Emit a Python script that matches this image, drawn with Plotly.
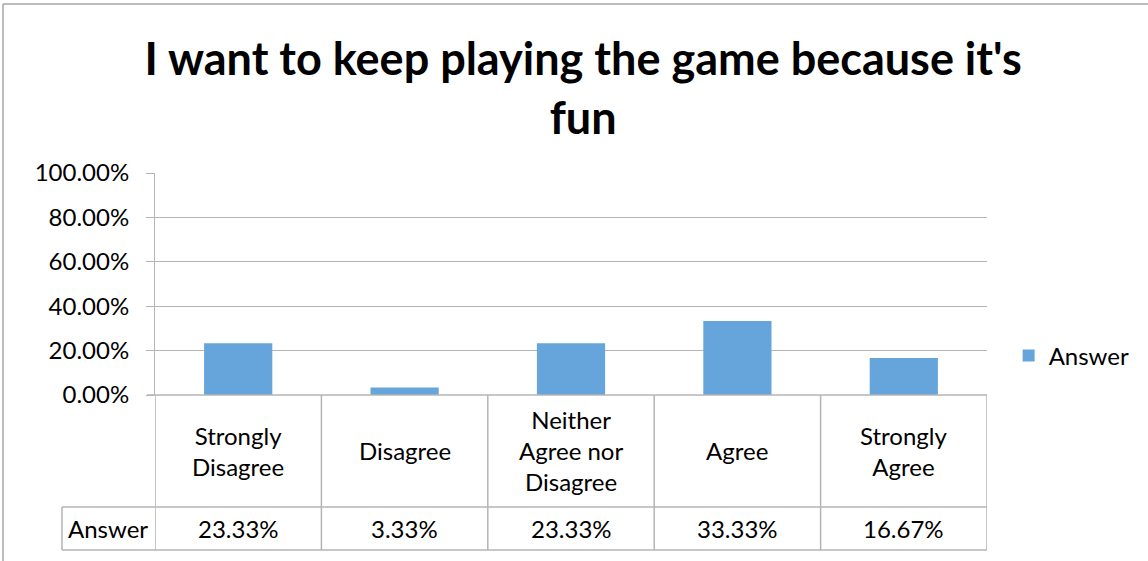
import plotly.graph_objects as go

# datos
categorias = ["Strongly Disagree", "Disagree", "Neither Agree nor Disagree", "Agree", "Strongly Agree"]
etiquetas = ["Strongly<br>Disagree", "Disagree", "Neither<br>Agree nor<br>Disagree", "Agree", "Strongly<br>Agree"]
valores = [0.2333, 0.0333, 0.2333, 0.3333, 0.1667]
serie = "Answer"
titulo = "I want to keep playing the game because it's<br>fun"

fuente = "Lato"
gris = "#b4b4b4"

fig = go.Figure()
fig.add_trace(go.Bar(x=list(range(len(categorias))), y=valores, name=serie,
                     marker=dict(color="#66a5dc", line=dict(width=0)),
                     hovertext=categorias))

fig.update_layout(
    width=1148, height=561,
    margin=dict(l=155, r=161, t=173, b=166),
    paper_bgcolor="white", plot_bgcolor="white",
    bargap=0.59,
    font=dict(family=fuente, size=24, color="black"),
    title=dict(text=titulo, x=0.508, xanchor="center", y=1 - 75 / 561, yanchor="middle",
               font=dict(family=fuente, size=45, color="black", weight="bold")),
    showlegend=True,
    legend=dict(x=1.026, y=0.176, xanchor="left", yanchor="middle",
                font=dict(size=24), bgcolor="rgba(0,0,0,0)"),
)

fig.update_xaxes(range=[-0.5, len(categorias) - 0.5], showticklabels=False,
                 showgrid=False, zeroline=False, showline=False, fixedrange=True)
fig.update_yaxes(range=[0, 1], dtick=0.2, tickformat=".2%", showgrid=True,
                 gridcolor=gris, gridwidth=1, showline=True, linecolor=gris,
                 ticks="outside", ticklen=8, tickcolor=gris, zeroline=False,
                 ticklabelstandoff=12, tickfont=dict(size=24), fixedrange=True)

# tabla de datos bajo el grafico
fila1 = -0.5045
fila2 = -0.698
izq = -0.1118
for i in range(len(categorias) + 1):
    fig.add_shape(type="line", xref="x", yref="paper", x0=i - 0.5, x1=i - 0.5,
                  y0=0, y1=fila2, line=dict(color=gris, width=1.5))
fig.add_shape(type="line", xref="paper", yref="paper", x0=izq, x1=1, y0=fila1, y1=fila1,
              line=dict(color=gris, width=1.5))
fig.add_shape(type="line", xref="paper", yref="paper", x0=izq, x1=1, y0=fila2, y1=fila2,
              line=dict(color=gris, width=1.5))
fig.add_shape(type="line", xref="paper", yref="paper", x0=izq, x1=izq, y0=fila1, y1=fila2,
              line=dict(color=gris, width=1.5))
fig.add_shape(type="line", xref="paper", yref="paper", x0=-0.0096, x1=1, y0=0, y1=0,
              line=dict(color=gris, width=1.5))

for i, (et, v) in enumerate(zip(etiquetas, valores)):
    fig.add_annotation(x=i, y=fila1 / 2, xref="x", yref="paper", text=et, showarrow=False,
                       font=dict(size=24), align="center", xanchor="center", yanchor="middle")
    fig.add_annotation(x=i, y=(fila1 + fila2) / 2, xref="x", yref="paper", text=f"{v:.2%}",
                       showarrow=False, font=dict(size=24), xanchor="center", yanchor="middle")
fig.add_annotation(x=izq / 2, y=(fila1 + fila2) / 2, xref="paper", yref="paper",
                   text=serie, showarrow=False, font=dict(size=24),
                   xanchor="center", yanchor="middle")

# borde exterior del grafico
fig.add_shape(type="line", xref="paper", yref="paper", x0=-0.1827, x1=1.2, y0=1.761, y1=1.761,
              line=dict(color="#a6a6a6", width=1.5))
fig.add_shape(type="line", xref="paper", yref="paper", x0=-0.1827, x1=-0.1827, y0=1.761, y1=-0.75,
              line=dict(color="#a6a6a6", width=1.5))

fig.write_html("out.html", config={"displayModeBar": False},
               post_script="document.body.style.margin='0';")
